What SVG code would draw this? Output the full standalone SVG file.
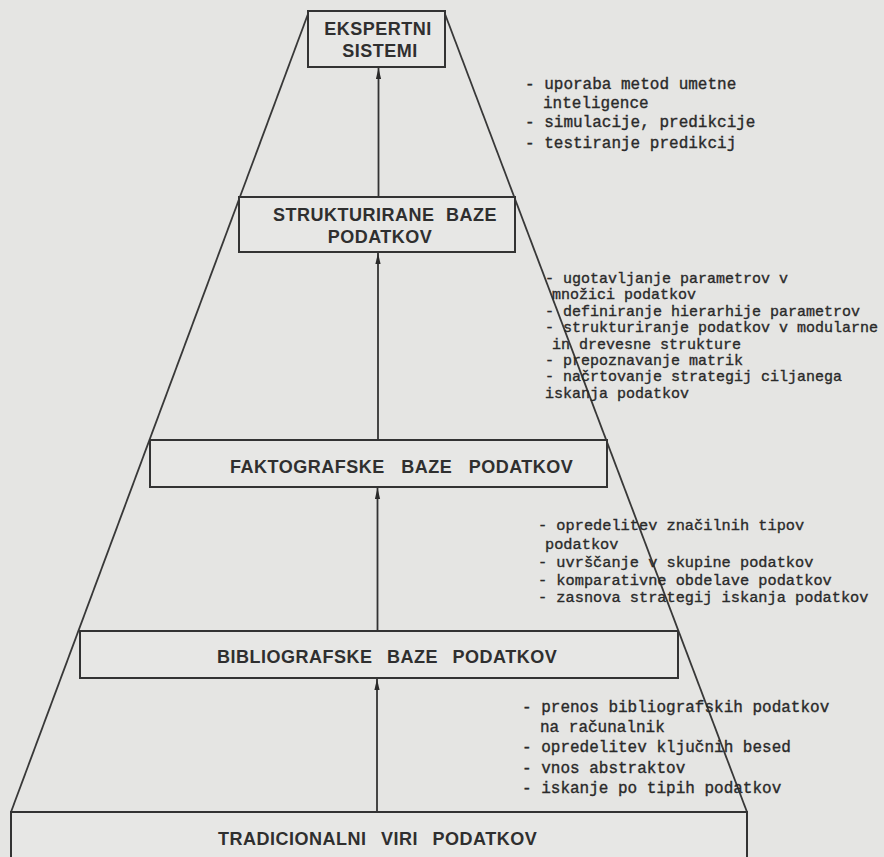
<svg xmlns="http://www.w3.org/2000/svg" width="884" height="857" viewBox="0 0 884 857">
  <defs>
    <marker id="ah" markerWidth="11" markerHeight="6" refX="11" refY="3" orient="auto" markerUnits="userSpaceOnUse" viewBox="0 0 11 6">
      <path d="M0,0.4 L11,3 L0,5.6 Z" fill="#2a2a2a"/>
    </marker>
    <style>
      .box { fill: #e7e7e5; stroke: #333; stroke-width: 2; }
      .frame { stroke: #383838; stroke-width: 1.8; fill: none; }
      .conn { stroke: #333; stroke-width: 1.8; fill: none; }
      .lbl { font-family: "Liberation Sans", Arial, sans-serif; font-weight: bold; font-size: 18px; fill: #2f2f2f; letter-spacing: 0.5px; }
      .tw { font-family: "Liberation Mono", "Courier New", monospace; fill: #2a2a2a; stroke: #2a2a2a; stroke-width: 0.35; white-space: pre; }
      .t16 { font-size: 16px; }
      .t15 { font-size: 15px; }
      .t153 { font-size: 15.3px; }
    </style>
  </defs>
  <rect x="0" y="0" width="884" height="857" fill="#e5e5e3"/>

  <g id="pyramid">
    <line class="frame" x1="308" y1="14" x2="11" y2="812"/>
    <line class="frame" x1="445" y1="14" x2="747" y2="812"/>
  </g>

  <g id="n-ekspertni">
    <rect class="box" x="308" y="11" width="137" height="56"/>
    <text class="lbl" x="378" y="35" text-anchor="middle">EKSPERTNI</text>
    <text class="lbl" x="380" y="57" text-anchor="middle">SISTEMI</text>
  </g>

  <g id="n-strukturirane">
    <rect class="box" x="239" y="197" width="276" height="55"/>
    <text class="lbl" x="385" y="221" text-anchor="middle" word-spacing="6">STRUKTURIRANE BAZE</text>
    <text class="lbl" x="380" y="243" text-anchor="middle">PODATKOV</text>
  </g>

  <g id="n-faktografske">
    <rect class="box" x="150" y="440" width="457" height="47"/>
    <text class="lbl" x="230" y="473" word-spacing="11">FAKTOGRAFSKE BAZE PODATKOV</text>
  </g>

  <g id="n-bibliografske">
    <rect class="box" x="80" y="631" width="598" height="47"/>
    <text class="lbl" x="217" y="663" word-spacing="9">BIBLIOGRAFSKE BAZE PODATKOV</text>
  </g>

  <g id="n-tradicionalni">
    <rect class="box" x="11" y="812" width="736" height="60"/>
    <text class="lbl" x="218" y="845" word-spacing="9">TRADICIONALNI VIRI PODATKOV</text>
  </g>

  <g id="connectors">
    <line class="conn" x1="378.5" y1="197" x2="378.5" y2="68"  marker-end="url(#ah)"/>
    <line class="conn" x1="378" y1="440" x2="378" y2="253" marker-end="url(#ah)"/>
    <line class="conn" x1="377.5" y1="631" x2="377.5" y2="488" marker-end="url(#ah)"/>
    <line class="conn" x1="377" y1="812" x2="377" y2="679" marker-end="url(#ah)"/>
  </g>

  <g id="notes-ekspertni" class="tw t16">
    <text x="525" y="89">- uporaba metod umetne</text>
    <text x="543" y="108">inteligence</text>
    <text x="525" y="127">- simulacije, predikcije</text>
    <text x="525" y="148">- testiranje predikcij</text>
  </g>

  <g id="notes-strukturirane" class="tw t15">
    <text x="545" y="283">- ugotavljanje parametrov v</text>
    <text x="552" y="299">množici podatkov</text>
    <text x="545" y="316">- definiranje hierarhije parametrov</text>
    <text x="545" y="332">- strukturiranje podatkov v modularne</text>
    <text x="552" y="349">in drevesne strukture</text>
    <text x="545" y="365">- prepoznavanje matrik</text>
    <text x="545" y="381">- načrtovanje strategij ciljanega</text>
    <text x="545" y="398">iskanja podatkov</text>
  </g>

  <g id="notes-faktografske" class="tw t153">
    <text x="538" y="530">- opredelitev značilnih tipov</text>
    <text x="545" y="549">podatkov</text>
    <text x="538" y="567">- uvrščanje v skupine podatkov</text>
    <text x="538" y="585">- komparativne obdelave podatkov</text>
    <text x="538" y="602">- zasnova strategij iskanja podatkov</text>
  </g>

  <g id="notes-bibliografske" class="tw t16">
    <text x="522" y="712">- prenos bibliografskih podatkov</text>
    <text x="540" y="732">na računalnik</text>
    <text x="522" y="752">- opredelitev ključnih besed</text>
    <text x="522" y="773">- vnos abstraktov</text>
    <text x="522" y="793">- iskanje po tipih podatkov</text>
  </g>
</svg>
